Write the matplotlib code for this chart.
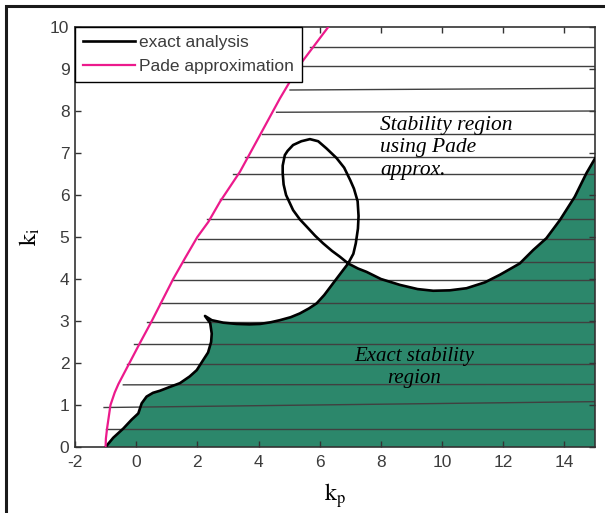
import matplotlib
matplotlib.use("Agg")
import matplotlib.pyplot as plt
from matplotlib.patches import Rectangle, Polygon

plt.rcParams['mathtext.fontset'] = 'stix'
plt.rcParams['axes.unicode_minus'] = False

# exact analysis boundary (kp, ki), in drawing order
exact_kp = [-1.0, -0.75, -0.42, -0.15, 0.07, 0.18, 0.34, 0.55, 0.78, 1.10, 1.43, 1.75, 1.98,
            2.19, 2.35, 2.45, 2.47, 2.42, 2.25, 2.47, 2.85, 3.28, 3.70, 4.05, 4.40, 4.70,
            5.05, 5.35, 5.65, 5.90, 6.15, 6.44, 6.70, 6.93,
            7.10, 7.18, 7.25, 7.27, 7.24, 7.12, 7.00, 6.80, 6.55, 6.22, 5.95, 5.68, 5.40,
            5.13, 4.95, 4.86, 4.79, 4.79, 4.82, 4.90, 5.13, 5.35, 5.57, 5.85, 6.11, 6.40,
            6.66, 6.93,
            7.25, 7.53, 8.00, 8.62, 9.20, 9.71, 10.25, 10.80, 11.40, 11.89, 12.54, 12.98,
            13.41, 13.85, 14.34, 14.72, 15.0]
exact_ki = [0.0, 0.22, 0.44, 0.65, 0.80, 1.04, 1.20, 1.29, 1.34, 1.43, 1.52, 1.68, 1.83,
            2.07, 2.25, 2.50, 2.70, 2.95, 3.12, 3.02, 2.96, 2.93, 2.92, 2.93, 2.97, 3.02,
            3.09, 3.18, 3.30, 3.42, 3.62, 3.90, 4.15, 4.37,
            4.60, 4.85, 5.20, 5.50, 5.85, 6.15, 6.35, 6.65, 6.88, 7.11, 7.28, 7.33, 7.28,
            7.19, 7.05, 6.95, 6.70, 6.52, 6.25, 6.00, 5.64, 5.42, 5.25, 5.03, 4.85, 4.67,
            4.53, 4.37,
            4.25, 4.17, 4.00, 3.86, 3.76, 3.72, 3.73, 3.78, 3.92, 4.10, 4.37, 4.69,
            4.97, 5.40, 5.96, 6.52, 6.87]

# Pade approximation boundary
pade_kp = [-1.0, -0.99, -0.95, -0.90, -0.84, -0.70, -0.58, -0.22, 0.14, 0.51, 0.86, 1.21,
           1.60, 2.0, 2.36, 2.74, 3.39, 4.05, 4.70, 5.35, 6.28]
pade_ki = [0.0, 0.2, 0.45, 0.7, 1.0, 1.3, 1.5, 2.0, 2.5, 3.0, 3.5, 4.0,
           4.5, 5.0, 5.36, 5.84, 6.55, 7.43, 8.30, 9.10, 10.0]

# horizontal hatch lines of the Pade region: left ki, right ki, start kp
hatch_ki_left = [0.44, 0.94, 1.48, 1.97, 2.45, 2.98, 3.42, 3.97, 4.41, 4.95, 5.44, 5.91,
                 6.50, 6.90, 7.46, 7.97, 8.50, 9.06, 9.52]
hatch_ki_right = [0.44, 1.08, 1.49, 1.97, 2.45, 2.98, 3.42, 3.97, 4.41, 4.95, 5.44, 5.91,
                  6.50, 6.90, 7.46, 8.00, 8.54, 9.06, 9.52]
hatch_kp_start = [-0.99, -1.05, -0.42, -0.31, -0.06, 0.36, 0.78, 1.19, 1.52, 2.03, 2.30, 2.74,
                  3.17, 3.57, 4.10, 4.59, 5.03, 5.13, 5.68]

xticks = [-2, 0, 2, 4, 6, 8, 10, 12, 14]
yticks = [0, 1, 2, 3, 4, 5, 6, 7, 8, 9, 10]

fig = plt.figure(figsize=(6.05, 5.13), dpi=100)
ax = fig.add_axes([75 / 605, 1 - 447 / 513, 520 / 605, 420 / 513])

# exact stability region: curve without the loop, closed along the axes
i0 = exact_kp.index(6.93)
i1 = len(exact_kp) - 1 - exact_kp[::-1].index(6.93)
fill_kp = exact_kp[:i0 + 1] + exact_kp[i1 + 1:] + [15.0]
fill_ki = exact_ki[:i0 + 1] + exact_ki[i1 + 1:] + [0.0]
ax.add_patch(Polygon(list(zip(fill_kp, fill_ki)), closed=True, facecolor='#2c876b',
                     edgecolor='none', zorder=1))

for yl, yr, xs in zip(hatch_ki_left, hatch_ki_right, hatch_kp_start):
    ax.plot([xs, 15], [yl, yr], color='#404040', lw=1.0, zorder=2)

ax.plot(exact_kp, exact_ki, color='black', lw=1.9, zorder=3, label='exact analysis')
ax.plot(pade_kp, pade_ki, color='#ec1a8c', lw=1.6, zorder=3, label='Pade approximation')

ax.set_xlim(-2, 15)
ax.set_ylim(0, 10)
ax.set_xticks(xticks)
ax.set_yticks(yticks)
ax.tick_params(direction='in', top=True, right=True, length=4, width=1,
               labelsize=12.5, labelcolor='#3c3c3c', color='#333333')
ax.tick_params(axis='x', pad=6)
ax.tick_params(axis='y', pad=4)
for lab in ax.get_xticklabels() + ax.get_yticklabels():
    lab.set_family('Liberation Sans')
for s in ax.spines.values():
    s.set_color('#333333')
    s.set_linewidth(1.2)

ax.set_xlabel(r'$\mathrm{k}_{\mathrm{p}}$', fontsize=17, labelpad=8)
ax.set_ylabel(r'$\mathrm{k}_{\mathrm{i}}$', fontsize=17, labelpad=6)

# multi-line text: baseline is that of the last line
ax.text(7.97, 6.48, 'Stability region\nusing Pade\napprox.', family='Liberation Serif',
        style='italic', fontsize=15.5, ha='left', va='baseline', linespacing=1.25, zorder=4)
ax.text(9.1, 1.52, 'Exact stability\nregion', family='Liberation Serif', style='italic',
        fontsize=15, ha='center', va='baseline', linespacing=1.22, zorder=4)

leg = ax.legend(loc='upper left', bbox_to_anchor=(0, 1), borderaxespad=0, fancybox=False,
                framealpha=1, edgecolor='black', handlelength=3.0, handletextpad=0.25,
                labelspacing=0.5, borderpad=0.45, prop={'family': 'Liberation Sans', 'size': 12.5})
leg.get_frame().set_linewidth(1.0)
for t in leg.get_texts():
    t.set_color('#3c3c3c')

# outer frame of the figure
fig.patches.append(Rectangle((6 / 605, -0.1), 1.2, 0.988 + 0.1, transform=fig.transFigure,
                             fill=False, edgecolor='#1a1a1a', lw=2.2, clip_on=False))

fig.savefig('out.png', dpi=100)
